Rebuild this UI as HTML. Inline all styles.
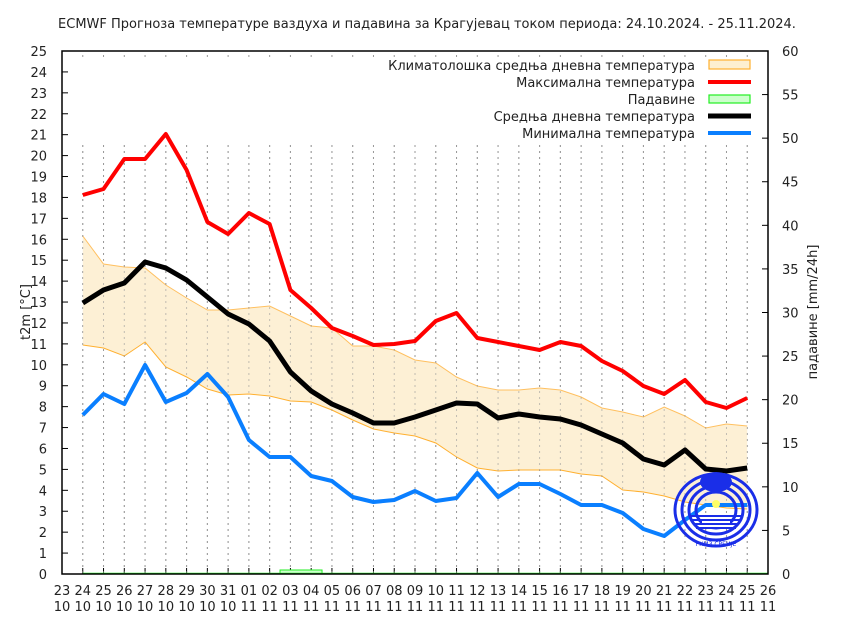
<!DOCTYPE html>
<html><head><meta charset="utf-8"><style>
html,body{margin:0;padding:0;background:#fff;width:854px;height:631px;overflow:hidden}
svg text{font-family:"DejaVu Sans","Liberation Sans",sans-serif;fill:#222}
</style></head><body>
<svg id="s" width="854" height="631" xmlns="http://www.w3.org/2000/svg">
<text x="427" y="28" font-size="13" text-anchor="middle">ECMWF Прогноза температуре ваздуха и падавина за Крагујевац током периода: 24.10.2024. - 25.11.2024.</text>
<g id="g"></g>
<rect x="62" y="51" width="706" height="523" fill="none" stroke="#000" stroke-width="1.5"/>
<text transform="translate(30,312) rotate(-90)" font-size="13" text-anchor="middle">t2m [°C]</text>
<text transform="translate(817,312) rotate(-90)" font-size="13" text-anchor="middle">падавине [mm/24h]</text>
<g font-size="13" text-anchor="end">
<text x="695" y="70">Климатолошка средња дневна температура</text>
<text x="695" y="87">Максимална температура</text>
<text x="695" y="104">Падавине</text>
<text x="695" y="121">Средња дневна температура</text>
<text x="695" y="138">Минимална температура</text>
</g>
<rect x="709" y="60" width="41" height="9" fill="#fdefd0" stroke="#ffb030" stroke-width="1.2"/>
<line x1="708" y1="82" x2="751" y2="82" stroke="#f00" stroke-width="4"/>
<rect x="709" y="95" width="41" height="8" fill="#ccffcc" stroke="#2e2" stroke-width="1.2"/>
<line x1="708" y1="116" x2="751" y2="116" stroke="#000" stroke-width="5"/>
<line x1="708" y1="133" x2="751" y2="133" stroke="#0a7fff" stroke-width="4"/>
</svg>
<script>
var g=document.getElementById('g'),h='';
function X(i){return 62+i*20.765;}
for(var v=0;v<=25;v++){var y=574-v*20.92;h+='<line x1="62" x2="68" y1="'+y+'" y2="'+y+'" stroke="#000"/><text x="47" y="'+(y+5)+'" font-size="13" text-anchor="end">'+v+'</text>';}
for(var m=0;m<=60;m+=5){var y=574-m*8.717;h+='<line x1="762" x2="768" y1="'+y+'" y2="'+y+'" stroke="#000"/><text x="782" y="'+(y+5)+'" font-size="13">'+m+'</text>';}
var lab=[];for(var d=23;d<=31;d++)lab.push([d,'10']);for(var d=1;d<=26;d++)lab.push([(d<10?'0':'')+d,'11']);
for(var i=0;i<lab.length;i++){var x=X(i);h+='<text x="'+x+'" y="595" font-size="13" text-anchor="middle">'+lab[i][0]+'</text><text x="'+x+'" y="611" font-size="13" text-anchor="middle">'+lab[i][1]+'</text>';
 if(i>0&&i<34){h+='<line x1="'+x+'" x2="'+x+'" y1="145" y2="574" stroke="#999" stroke-dasharray="2,4"/><line x1="'+x+'" x2="'+x+'" y1="55" y2="60" stroke="#999" stroke-dasharray="2,3"/><line x1="'+x+'" x2="'+x+'" y1="568" y2="574" stroke="#000"/>';}}
var up=[236,264,267,268,285,298,310,310,308,306,316,326,328,346,346,350,360,363,377,386,390,390,388,390,397,408,412,417,407,416,428,424,426];
var lo=[345,348,356,342,367,377,389,395,394,396,401,402,410,420,429,433,436,443,457,468,471,470,470,470,474,476,490,492,496,502,505,508,509];
var mx=[195,189,159,159,134,170,222,234,213,224,290,308,328,336,345,344,341,321,313,338,342,346,350,342,346,361,371,386,394,380,402,408,398];
var mn=[303,290,283,262,268,280,297,314,324,341,372,391,404,413,423,423,417,410,403,404,418,414,417,419,425,434,443,459,465,450,469,471,468];
var mi=[415,394,404,365,402,393,374,397,440,457,457,476,481,497,502,500,491,501,498,473,497,484,484,494,505,505,513,529,536,520,505,505,505];
function pts(a){return a.map(function(y,k){return X(k+1).toFixed(1)+','+y;}).join(' ');}
var band=pts(up)+' '+lo.slice().reverse().map(function(y,k){return X(33-k).toFixed(1)+','+y;}).join(' ');
h+='<polygon points="'+band+'" fill="#fdf0d5"/>';
h+='<polyline points="'+pts(up)+'" fill="none" stroke="#ffc060" stroke-width="1"/>';
h+='<polyline points="'+pts(lo)+'" fill="none" stroke="#ffb030" stroke-width="1"/>';
for(var i=1;i<=33;i++){h+='<line x1="'+X(i)+'" x2="'+X(i)+'" y1="145" y2="574" stroke="#999" stroke-dasharray="2,4" opacity="0.6"/>';}
h+='<rect x="'+(X(10.5))+'" y="570" width="42" height="4" fill="#ccffcc" stroke="#2e2"/>';
h+='<line x1="'+X(1)+'" x2="'+X(34)+'" y1="573.5" y2="573.5" stroke="#2e2" stroke-width="1.5"/>';
h+='<polyline points="'+pts(mi)+'" fill="none" stroke="#0a7fff" stroke-width="4" stroke-linejoin="round"/>';
h+='<polyline points="'+pts(mx)+'" fill="none" stroke="#f00" stroke-width="4" stroke-linejoin="round"/>';
h+='<polyline points="'+pts(mn)+'" fill="none" stroke="#000" stroke-width="5" stroke-linejoin="round"/>';
// logo
var cx=716,cy=510;
for(var r=0;r<4;r++){h+='<ellipse cx="'+cx+'" cy="'+cy+'" rx="'+(41-r*7)+'" ry="'+(36-r*6)+'" fill="none" stroke="#1a2ee8" stroke-width="3"/>';}
h+='<rect x="'+(cx-14)+'" y="'+(cy+4)+'" width="28" height="14" fill="#fff"/>';
for(var r=0;r<4;r++){h+='<line x1="'+(cx-26+r*2)+'" x2="'+(cx+26-r*2)+'" y1="'+(cy+6+r*4)+'" y2="'+(cy+6+r*4)+'" stroke="#1a2ee8" stroke-width="2"/>';}
h+='<ellipse cx="'+cx+'" cy="'+(cy-28)+'" rx="16" ry="10" fill="#1a2ee8"/><circle cx="'+cx+'" cy="'+(cy-6)+'" r="4" fill="#ff6"/>';
h+='<text x="'+cx+'" y="'+(cy+36)+'" font-size="6" text-anchor="middle" style="fill:#1a2ee8">РХМЗ СРБИЈЕ</text>';
g.innerHTML=h;
</script>
</body></html>
